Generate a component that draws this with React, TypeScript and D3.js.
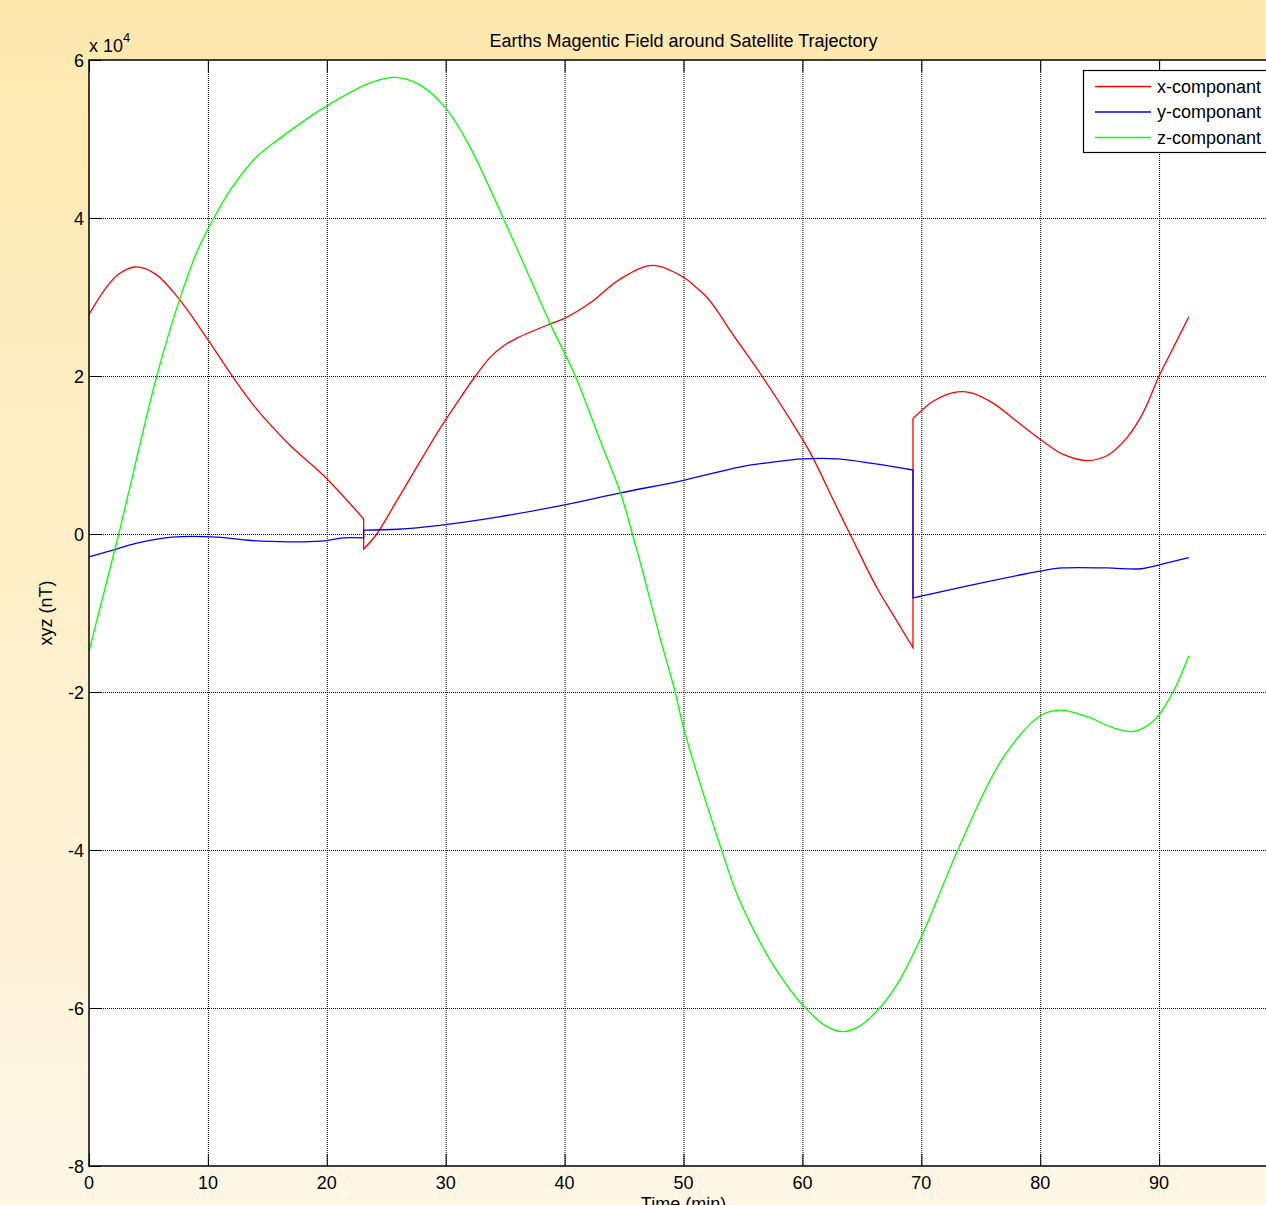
import React from "react";
import * as d3 from "d3";

// readings, time in minutes, field in nT
const xCompA: [number, number][] = [
  [0, 27800], [1.4, 31100], [2.5, 32900], [3.9, 33800], [5.6, 32900], [7.6, 29700],
  [10, 24600], [12, 20100], [14, 16000], [16.8, 11400], [20, 7000], [23.1, 1900],
];
const xCompB: [number, number][] = [
  [23.1, -1900], [24.2, 0], [26, 4500], [29.5, 13300], [30.9, 16500], [32.5, 20000],
  [33.7, 22300], [34.85, 23800], [36, 24800], [38.8, 26600], [40, 27300], [42.1, 29200],
  [44.7, 32300], [47.4, 34000], [50, 32500], [51, 31300], [52, 29900], [53, 27900],
  [53.9, 25800], [56.6, 20000], [60, 12000], [60.9, 9600], [62.6, 4300], [64, 0],
  [66.3, -6900], [67.7, -10400], [69.3, -14400],
];
const xCompC: [number, number][] = [
  [69.3, 14600], [70, 15600], [71, 16800], [72.7, 17900], [74.1, 17900], [76, 16600],
  [78, 14300], [80, 12000], [81.9, 10100], [83.9, 9300], [85.6, 9900], [87.3, 12200],
  [88.6, 15200], [90, 20000], [91, 23000], [92.5, 27500],
];

const yCompA: [number, number][] = [
  [0, -2900], [2.3, -1900], [4.2, -1100], [7, -400], [10.8, -400], [12.8, -700],
  [14.5, -900], [19.5, -900], [21.4, -500], [23.1, -500],
];
const yCompB: [number, number][] = [
  [23.1, 500], [26, 600], [29.5, 1100], [34.6, 2200], [40, 3700], [44.7, 5200],
  [50, 6800], [54.8, 8500], [57.5, 9100], [60, 9500], [63, 9500], [66, 8900], [69.3, 8100],
];
const yCompC: [number, number][] = [
  [69.3, -8100], [73.8, -6600], [80, -4700], [81.9, -4300], [85.6, -4300],
  [88.5, -4400], [90, -3900], [92.5, -3000],
];

const zComp: [number, number][] = [
  [0, -14800], [2.5, 0], [5.7, 20000], [7.6, 29600], [9.1, 35800], [10.5, 40000],
  [12, 43800], [14, 47600], [15.7, 49700], [20, 54200], [23.8, 57200], [25.8, 57800],
  [28, 56700], [30, 53900], [32, 49100], [35.7, 37100], [38.8, 26600], [40.9, 20000],
  [43, 11800], [44.7, 5200], [45.7, 0], [46.6, -4900], [48, -13000], [49.3, -20000],
  [50, -24500], [53.2, -40000], [54.5, -45600], [56.2, -51000], [57.9, -55400],
  [60, -59600], [62, -62300], [63.4, -63000], [64.8, -62300], [66.5, -60000],
  [68.2, -56400], [70, -51000], [73.3, -39200], [76.8, -28500], [80, -23000],
  [81.7, -22300], [83.9, -23100], [86.1, -24500], [87.8, -25000], [89.5, -23700],
  [91, -20500], [92.5, -15400],
];

const seriesNames = ["x-componant", "y-componant", "z-componant"];
const seriesColors = ["#ff0000", "#0000ff", "#00ff00"];
const xTicks = [0, 10, 20, 30, 40, 50, 60, 70, 80, 90];
const yTicks = [-80000, -60000, -40000, -20000, 0, 20000, 40000, 60000];

const W = 1266;
const H = 1205;
const font = "'Liberation Sans', Arial, Helvetica, sans-serif";

export default function App() {
  const left = 89, right = 1278, top = 60, bottom = 1166;
  const x = d3.scaleLinear().domain([0, 100]).range([left, right]);
  const y = d3.scaleLinear().domain([-80000, 60000]).range([bottom, top]);

  const line = d3
    .line<[number, number]>()
    .x((d) => x(d[0]))
    .y((d) => y(d[1]))
    .curve(d3.curveCatmullRom.alpha(0.5));

  // join pieces with a straight vertical jump
  const joined = (parts: [number, number][][]) =>
    parts.map((p, i) => (i === 0 ? line(p) : (line(p) || "").replace(/^M/, "L"))).join("");

  const paths = [
    joined([xCompA, xCompB, xCompC]),
    joined([yCompA, yCompB, yCompC]),
    joined([zComp]),
  ];

  return (
    <svg
      width={W}
      height={H}
      style={{ position: "absolute", left: 0, top: 0, display: "block" }}
      fontFamily={font}
    >
      <defs>
        <linearGradient id="bg" x1="0" y1="0" x2="0" y2="1">
          <stop offset="0" stopColor="#fde8ae" />
          <stop offset="1" stopColor="#fff7e6" />
        </linearGradient>
      </defs>
      <rect width={W} height={H} fill="url(#bg)" />
      <rect x={left} y={top} width={right - left} height={bottom - top} fill="#fff" />

      <g stroke="#000" strokeWidth="1" strokeDasharray="1,1">
        {xTicks.slice(1).map((t) => (
          <line key={"gx" + t} x1={x(t) + 0.5} x2={x(t) + 0.5} y1={top} y2={bottom} />
        ))}
        {yTicks.slice(1, -1).map((t) => (
          <line key={"gy" + t} x1={left} x2={right} y1={Math.round(y(t)) + 0.5} y2={Math.round(y(t)) + 0.5} />
        ))}
      </g>

      <g stroke="#000" strokeWidth="1">
        {xTicks.map((t) => (
          <g key={"tx" + t}>
            <line x1={x(t) + 0.5} x2={x(t) + 0.5} y1={bottom} y2={bottom - 12} />
            <line x1={x(t) + 0.5} x2={x(t) + 0.5} y1={top} y2={top + 12} />
          </g>
        ))}
        {yTicks.map((t) => (
          <line key={"ty" + t} x1={left} x2={left + 12} y1={Math.round(y(t)) + 0.5} y2={Math.round(y(t)) + 0.5} />
        ))}
      </g>

      <g fill="none" strokeWidth="1.3">
        {paths.map((d, i) => (
          <path key={i} d={d} stroke={seriesColors[i]} />
        ))}
      </g>

      <rect
        x={left}
        y={top}
        width={right - left}
        height={bottom - top}
        fill="none"
        stroke="#000"
        strokeWidth="1.5"
      />

      <g fontSize="18" fill="#000">
        {xTicks.map((t) => (
          <text key={"lx" + t} x={x(t)} y={1189} textAnchor="middle">
            {t}
          </text>
        ))}
        {yTicks.map((t) => (
          <text key={"ly" + t} x={84} y={y(t) + 7} textAnchor="end">
            {t / 10000}
          </text>
        ))}
        <text x={89} y={52}>
          x 10
          <tspan fontSize="13" dy="-10">4</tspan>
        </text>
        <text x={(left + right) / 2} y={47} textAnchor="middle">
          Earths Magentic Field around Satellite Trajectory
        </text>
        <text x={(left + right) / 2} y={1210} textAnchor="middle">
          Time (min)
        </text>
        <text transform={`translate(52,${(top + bottom) / 2}) rotate(-90)`} textAnchor="middle">
          xyz (nT)
        </text>
      </g>

      <g>
        <rect x={1083.5} y={70.5} width={190} height={82} fill="#fff" stroke="#000" strokeWidth="1.2" />
        {seriesNames.map((n, i) => (
          <g key={n}>
            <line x1={1095} x2={1151} y1={86.5 + i * 25.5} y2={86.5 + i * 25.5} stroke={seriesColors[i]} strokeWidth="1.3" />
            <text x={1157} y={86.5 + i * 25.5 + 6} fontSize="18">
              {n}
            </text>
          </g>
        ))}
      </g>
    </svg>
  );
}
